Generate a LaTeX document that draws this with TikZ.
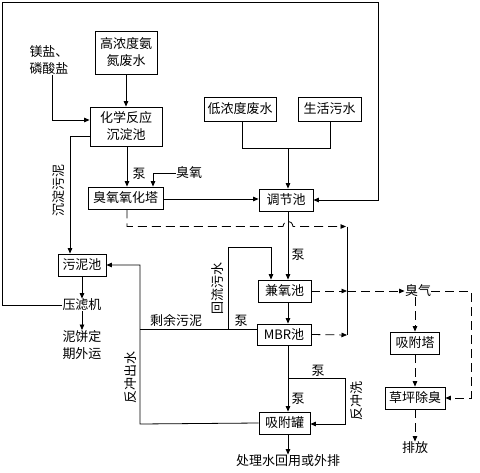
\documentclass[tikz,border=0pt]{standalone}
\usepackage{fontspec}
\setmainfont{Noto Sans CJK SC}
\usetikzlibrary{arrows.meta,calc}
\begin{document}
\begin{tikzpicture}[x=1pt,y=-1pt,
  font=\fontsize{13}{17}\selectfont,
  line width=0.8pt,
  >={Triangle[length=5.5pt,width=4.5pt]},
  box/.style={draw,inner sep=1pt,align=center},
  lbl/.style={inner sep=0pt,align=center},
  dsh/.style={dash pattern=on 9pt off 5pt}]
\useasboundingbox (0,0) rectangle (480,472);
% nodes
\node[box,minimum width=62pt,minimum height=43pt] (gn) at (126,52.5) {高浓度氨\\氮废水};
\node[lbl] (mei) at (49,60) {镁盐、\\磷酸盐};
\node[box,minimum width=72pt,minimum height=39pt] (hx) at (126,126.5) {化学反应\\沉淀池};
\node[box,minimum width=75pt,minimum height=22pt] (cy) at (125.5,198) {臭氧氧化塔};
\node[lbl] (oz) at (189,173) {臭氧};
\node[box,minimum width=72pt,minimum height=24pt] (dn) at (240,109) {低浓度废水};
\node[box,minimum width=63pt,minimum height=24pt] (sh) at (329.5,109) {生活污水};
\node[box,minimum width=54pt,minimum height=22pt] (tj) at (286,200) {调节池};
\node[box,minimum width=53pt,minimum height=22pt] (jy) at (284.5,291) {兼氧池};
\node[box,minimum width=54pt,minimum height=21pt] (mbr) at (284,334.5) {MBR池};
\node[box,minimum width=51pt,minimum height=22pt] (xg) at (284.5,423) {吸附罐};
\node[box,minimum width=48pt,minimum height=22pt] (wn) at (82,265) {污泥池};
\node[lbl] (ylj) at (82,305) {压滤机};
\node[lbl] (nb) at (82,345) {泥饼定\\期外运};
\node[lbl] (cls) at (288,461) {处理水回用或外排};
\node[lbl] (cq) at (418,291) {臭气};
\node[box,minimum width=49pt,minimum height=22pt] (xt) at (415,343) {吸附塔};
\node[box,minimum width=60pt,minimum height=22pt] (cp) at (415,398) {草坪除臭};
\node[lbl] (pf) at (415,448) {排放};
% labels
\node[lbl] at (139,174) {泵};
\node[lbl,rotate=90] at (59,190) {沉淀污泥};
\node[lbl] at (298,255) {泵};
\node[lbl,rotate=90] at (218,288) {回流污水};
\node[lbl] at (176,320) {剩余污泥};
\node[lbl] at (241,321) {泵};
\node[lbl,rotate=90] at (131,377) {反冲出水};
\node[lbl] at (318,371) {泵};
\node[lbl] at (298,399) {泵};
\node[lbl,rotate=90] at (357,401) {反冲洗};
% coordinates
\coordinate (jn) at (288,148);
\coordinate (col) at (347,291);
% solid connectors
\draw[->] (gn.south) -- (hx.north -| gn.south);
\draw[->] (mei.south -| 52,0) -- (52,120) -- (hx.west |- 0,120);
\draw[->] (hx.west |- 0,136) -- (70,136) -- (wn.north -| 70,0);
\draw[->] (hx.south -| 127,0) -- (cy.north -| 127,0);
\draw[->] (oz.west) -- (153,173) -- (cy.north -| 153,0);
\draw (dn.south -| 242,0) -- (242,148) -- (330,148) -- (sh.south -| 330,0);
\draw[->] (jn) -- (tj.north -| jn);
\draw[->] (cy.east |- 0,199) -- (tj.west |- 0,199);
\draw[->] (ylj.west) -- (2,305) -- (2,2) -- (378,2) -- (378,200) -- (tj.east |- 0,200);
\draw[->] (tj.south -| 288,0) -- (jy.north -| 288,0);
\draw[->] (jy.south -| 288,0) -- (mbr.north -| 288,0);
\draw[->] (mbr.west |- 0,329) -- (228,329) -- (228,247) -- (271,247) -- (jy.north -| 271,0);
\draw (mbr.west |- 0,329) -- (140,329);
\draw[->] (xg.west) -- (140,424) -- (140,265) -- (wn.east);
\draw[->] (wn.south) -- (ylj.north);
\draw[->] (ylj.south) -- (nb.north);
\draw[->] (mbr.south -| 288,0) -- (xg.north -| 288,0);
\draw[->] (288,378) -- (345,378) -- (345,424) -- (xg.east |- 0,424);
\draw[->] (xg.south -| 288,0) -- (cls.north -| 288,0);
\draw (347,226.5) -- (347,335);
% dashed connectors
\draw[dsh,->] (cy.south -| 127,0) -- (127,226.5) -- (283,226.5) .. controls (284,219.5) and (292,219.5) .. (293,226.5) -- (346,226.5);
\draw[dsh,->] (jy.east) -- (col);
\draw[dsh,->] (mbr.east) -- (347,335);
\draw[dsh,->] (col) -- (cq.west);
\draw[dsh,->] (cq.east) -- (471,291) -- (471,398) -- (cp.east);
\draw[dsh,->] (cq.south -| xt.north) -- (xt.north);
\draw[dsh,->] (xt.south) -- (cp.north);
\draw[dsh,->] (cp.south) -- (pf.north);
\end{tikzpicture}
\end{document}
